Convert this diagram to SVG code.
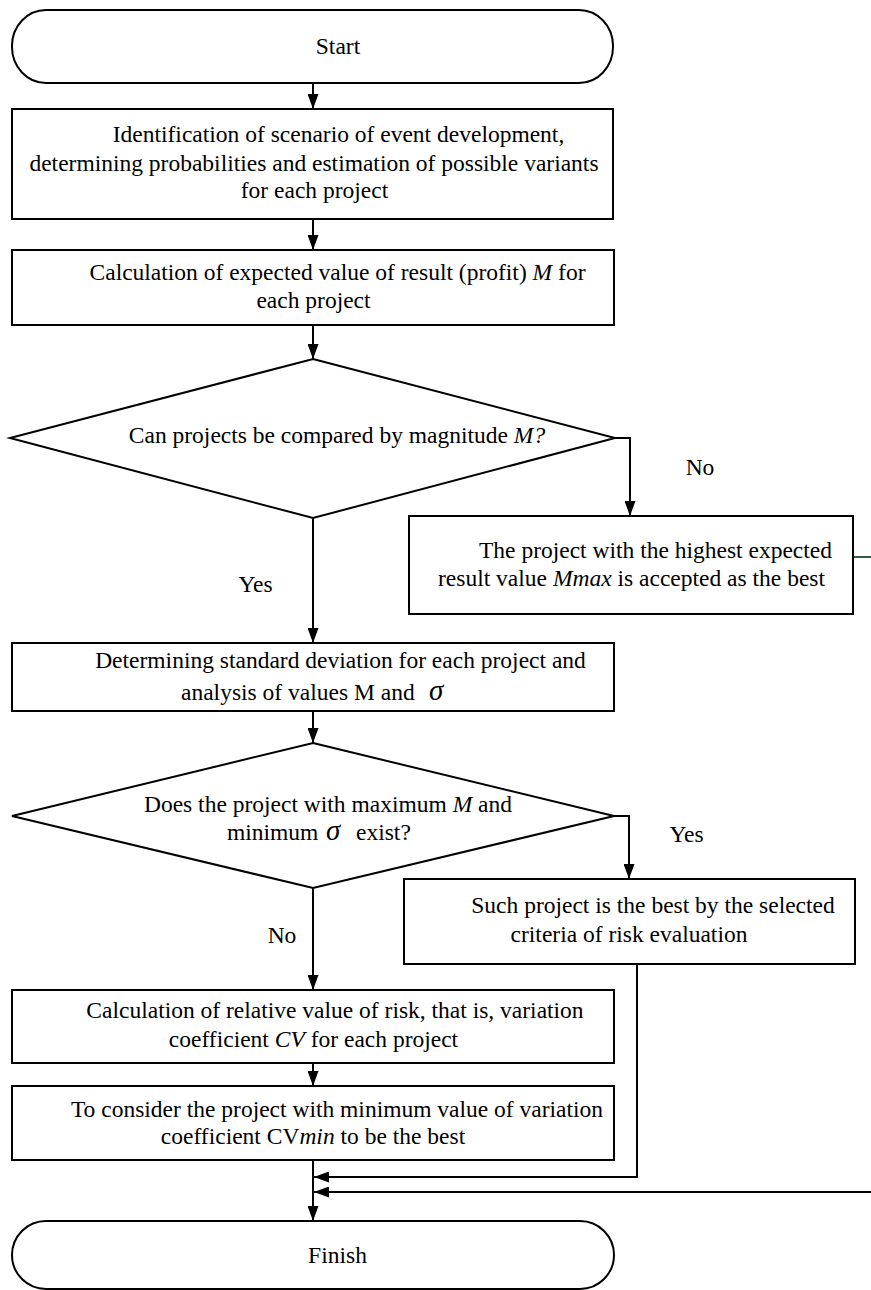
<svg xmlns="http://www.w3.org/2000/svg" width="871" height="1290" viewBox="0 0 871 1290">
<style>
.s{fill:#fff;stroke:#000;stroke-width:2}
.t{font-family:'Liberation Serif',serif;font-size:23.5px;fill:#000;text-anchor:middle}
.l{font-family:'Liberation Serif',serif;font-size:23.5px;fill:#000}
.i{font-style:italic}
.c{fill:none;stroke:#000;stroke-width:2}
</style>
<defs>
<marker id="a" markerUnits="userSpaceOnUse" markerWidth="15" markerHeight="11" refX="15" refY="5.5" orient="auto">
<path d="M0,0 L15,5.5 L0,11 z" fill="#000"/>
</marker>
</defs>
<rect width="871" height="1290" fill="#fff"/>
<g id="connectors">
<path class="c" d="M313,83 V109" marker-end="url(#a)"/>
<path class="c" d="M313,219 V250" marker-end="url(#a)"/>
<path class="c" d="M313,325 V359" marker-end="url(#a)"/>
<path class="c" d="M615,438 H630 V516" marker-end="url(#a)"/>
<path class="c" d="M313,518 V643" marker-end="url(#a)"/>
<path class="c" d="M313,711 V743" marker-end="url(#a)"/>
<path class="c" d="M614,816 H629 V879" marker-end="url(#a)"/>
<path class="c" d="M313,888 V990" marker-end="url(#a)"/>
<path class="c" d="M313,1063 V1086" marker-end="url(#a)"/>
<path class="c" d="M313,1160 V1221" marker-end="url(#a)"/>
<path class="c" d="M637,964 V1177 H314" marker-end="url(#a)"/>
<path class="c" d="M871,1192 H314" marker-end="url(#a)"/>
<path d="M853,557 H871" fill="none" stroke="#2f5f3f" stroke-width="2"/>
<text class="t" x="700" y="475">No</text>
<text class="t" x="255.5" y="592">Yes</text>
<text class="t" x="686.5" y="842">Yes</text>
<text class="t" x="282" y="943">No</text>
</g>
<g id="start">
<rect class="s" x="12" y="10" width="601" height="73" rx="34" ry="36"/>
<text class="t" x="338" y="54">Start</text>
</g>
<g id="box1">
<rect class="s" x="12" y="109" width="601" height="110"/>
<text class="t" x="338.5" y="142">Identification of scenario of event development,</text>
<text class="t" x="314" y="171">determining probabilities and estimation of possible variants</text>
<text class="t" x="314.5" y="198">for each project</text>
</g>
<g id="box2">
<rect class="s" x="12" y="250" width="602" height="75"/>
<text class="t" x="337.5" y="280">Calculation of expected value of result (profit) <tspan class="i">M</tspan> for</text>
<text class="t" x="313.5" y="308">each project</text>
</g>
<g id="decision1">
<polygon class="s" points="313,359 615,438 313,518 10,438"/>
<text class="t" x="337" y="443">Can projects be compared by magnitude <tspan class="i">M?</tspan></text>
</g>
<g id="box3">
<rect class="s" x="409" y="516" width="444" height="98"/>
<text class="t" x="655.5" y="558">The project with the highest expected</text>
<text class="t" x="631.5" y="586">result value <tspan class="i">Mmax</tspan> is accepted as the best</text>
</g>
<g id="box4">
<rect class="s" x="12" y="643" width="602" height="68"/>
<text class="t" x="340.5" y="668">Determining standard deviation for each project and</text>
<text class="l" x="181" y="700">analysis of values M and</text>
<text class="l i" x="429" y="700" style="font-size:29px">σ</text>
</g>
<g id="decision2">
<polygon class="s" points="313,743 614,816 313,888 12,816"/>
<text class="t" x="328" y="812">Does the project with maximum <tspan class="i">M</tspan> and</text>
<text class="l" x="227" y="840">minimum</text>
<text class="l i" x="326" y="840" style="font-size:29px">σ</text>
<text class="l" x="356" y="840">exist?</text>
</g>
<g id="box5">
<rect class="s" x="404" y="879" width="451" height="85"/>
<text class="t" x="653" y="913">Such project is the best by the selected</text>
<text class="t" x="629" y="942">criteria of risk evaluation</text>
</g>
<g id="box6">
<rect class="s" x="12" y="990" width="602" height="73"/>
<text class="t" x="335" y="1018">Calculation of relative value of risk, that is, variation</text>
<text class="t" x="313.5" y="1047">coefficient <tspan class="i">CV</tspan> for each project</text>
</g>
<g id="box7">
<rect class="s" x="12" y="1086" width="602" height="74"/>
<text class="t" x="337" y="1117">To consider the project with minimum value of variation</text>
<text class="t" x="313" y="1144">coefficient CV<tspan class="i">min</tspan> to be the best</text>
</g>
<g id="finish">
<rect class="s" x="12" y="1221" width="602" height="68" rx="34" ry="34"/>
<text class="t" x="337.5" y="1263">Finish</text>
</g>
</svg>
